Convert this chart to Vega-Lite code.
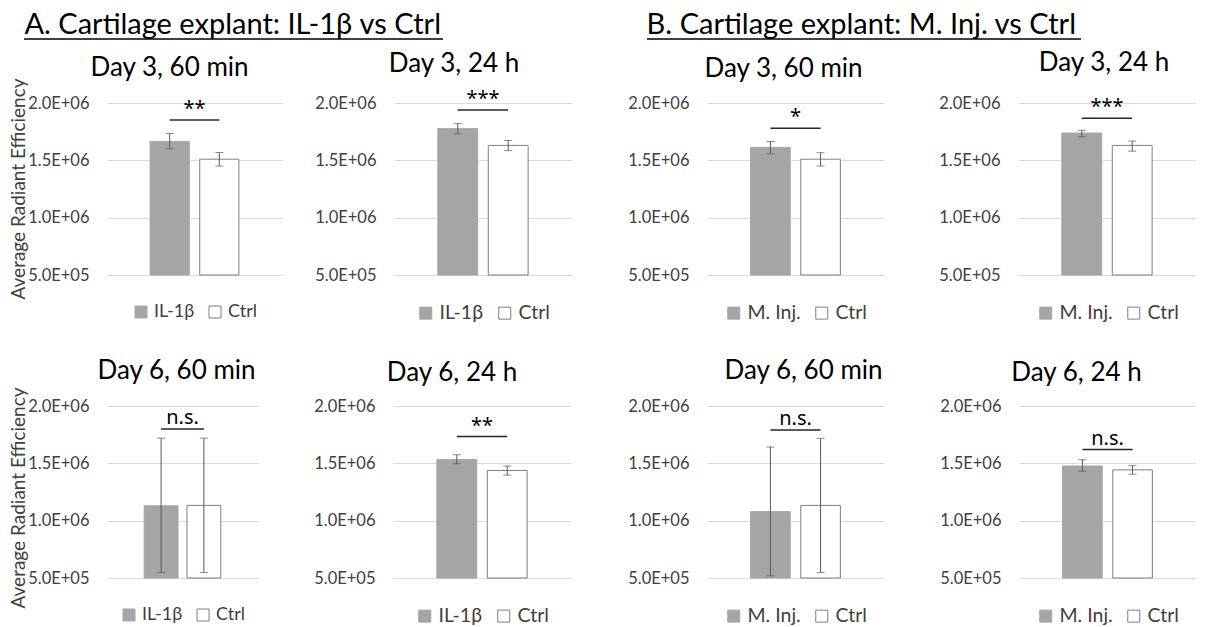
{
"$schema": "https://vega.github.io/schema/vega-lite/v6.json",
"background": "white",
"padding": {"left": 8, "top": 6, "right": 0, "bottom": 0},
"datasets": {
"bars": [
{"panel":"A1","group":"IL-1β","mean":1665000,"lo":1600000,"hi":1735000},
{"panel":"A1","group":"Ctrl","mean":1510000,"lo":1450000,"hi":1568000},
{"panel":"A2","group":"IL-1β","mean":1776000,"lo":1732000,"hi":1820000},
{"panel":"A2","group":"Ctrl","mean":1630000,"lo":1585000,"hi":1673000},
{"panel":"A3","group":"IL-1β","mean":1130000,"lo":548000,"hi":1720000},
{"panel":"A3","group":"Ctrl","mean":1133000,"lo":547000,"hi":1720000},
{"panel":"A4","group":"IL-1β","mean":1533000,"lo":1497000,"hi":1575000},
{"panel":"A4","group":"Ctrl","mean":1438000,"lo":1397000,"hi":1476000},
{"panel":"B1","group":"M. Inj.","mean":1613000,"lo":1558000,"hi":1665000},
{"panel":"B1","group":"Ctrl","mean":1510000,"lo":1450000,"hi":1567000},
{"panel":"B2","group":"M. Inj.","mean":1738000,"lo":1705000,"hi":1762000},
{"panel":"B2","group":"Ctrl","mean":1630000,"lo":1580000,"hi":1668000},
{"panel":"B3","group":"M. Inj.","mean":1079000,"lo":520000,"hi":1643000},
{"panel":"B3","group":"Ctrl","mean":1133000,"lo":547000,"hi":1718000},
{"panel":"B4","group":"M. Inj.","mean":1477000,"lo":1430000,"hi":1532000},
{"panel":"B4","group":"Ctrl","mean":1443000,"lo":1405000,"hi":1480000}
],
"sig": [
{"panel":"A1","g1":"IL-1β","g2":"Ctrl","y":1852000,"label":"**"},
{"panel":"A2","g1":"IL-1β","g2":"Ctrl","y":1940000,"label":"***"},
{"panel":"A3","g1":"IL-1β","g2":"Ctrl","y":1800000,"label":"n.s."},
{"panel":"A4","g1":"IL-1β","g2":"Ctrl","y":1734000,"label":"**"},
{"panel":"B1","g1":"M. Inj.","g2":"Ctrl","y":1780000,"label":"*"},
{"panel":"B2","g1":"M. Inj.","g2":"Ctrl","y":1868000,"label":"***"},
{"panel":"B3","g1":"M. Inj.","g2":"Ctrl","y":1790000,"label":"n.s."},
{"panel":"B4","g1":"M. Inj.","g2":"Ctrl","y":1620000,"label":"n.s."}
],
"ytitle": [
{"t": "Average Radiant Efficiency"}
]
},
"config": {
"font": "Lato",
"view": {"stroke": null},
"title": {"fontSize": 26, "fontWeight": "normal", "color": "#000000", "font": "Lato"},
"axisY": {"domain": false, "ticks": false, "gridColor": "#d9d9d9", "gridWidth": 1, "labelFontSize": 16.5, "labelColor": "#404040", "labelPadding": 18, "labelFont": "Lato"},
"legend": {"orient": "bottom", "direction": "horizontal", "symbolType": "square", "symbolSize": 144, "symbolStrokeWidth": 1, "labelFontSize": 19.5, "labelColor": "#404040", "labelFont": "Lato", "columnPadding": 11, "labelOffset": 4, "offset": 28, "layout": {"bottom": {"anchor": "middle"}}}
},
"resolve": {"scale": {"fill": "independent", "stroke": "independent"}},
"spacing": 10,
"vconcat": [
{
"resolve": {"scale": {"fill": "independent", "stroke": "independent"}},
"spacing": 201,
"hconcat": [
{
"width": 434, "height": 33,
"data": {"values": [{"section": "A. Cartilage explant: IL-1β vs Ctrl"}]},
"layer": [
{"mark": {"type": "text", "x": "width", "align": "right", "baseline": "middle", "dx": -2, "dy": 2, "fontSize": 29, "font": "Lato", "color": "#000000"}, "encoding": {"text": {"field": "section"}}},
{"mark": {"type": "rule", "color": "#000000", "strokeWidth": 1.5, "strokeDash": [419, 2000]}, "encoding": {"y": {"datum": 0, "type": "quantitative", "scale": {"domain": [0, 1]}, "axis": null}}}
]
},
{
"width": 434, "height": 33,
"data": {"values": [{"section": "B. Cartilage explant: M. Inj. vs Ctrl"}]},
"layer": [
{"mark": {"type": "text", "x": "width", "align": "right", "baseline": "middle", "dx": -5, "dy": 2, "fontSize": 29, "font": "Lato", "color": "#000000"}, "encoding": {"text": {"field": "section"}}},
{"mark": {"type": "rule", "color": "#000000", "strokeWidth": 1.5}, "encoding": {"y": {"datum": 0, "type": "quantitative", "scale": {"domain": [0, 1]}, "axis": null}}}
]
}
]
},
{
"resolve": {"scale": {"fill": "independent", "stroke": "independent"}},
"spacing": 55,
"hconcat": [
{
"resolve": {"scale": {"fill": "independent", "stroke": "independent"}},
"spacing": -2,
"hconcat": [
{
"spacing": 87,
"vconcat": [
{"width": 19, "height": 172, "data": {"name": "ytitle"}, "mark": {"type": "text", "angle": 270, "align": "center", "baseline": "middle", "fontSize": 19, "font": "Lato", "color": "#404040"}, "encoding": {"text": {"field": "t"}}},
{"width": 19, "height": 172, "data": {"name": "ytitle"}, "mark": {"type": "text", "angle": 270, "align": "center", "baseline": "middle", "fontSize": 19, "font": "Lato", "color": "#404040"}, "encoding": {"text": {"field": "t"}}}
]
},
{
"resolve": {"scale": {"fill": "independent", "stroke": "independent"}},
"spacing": 35,
"vconcat": [
{
"resolve": {"scale": {"fill": "independent", "stroke": "independent"}},
"bounds": "flush",
"spacing": 112,
"hconcat": [
{"width":175,"height":172,
 "title":{"text":"Day 3, 60 min","dx":-25,"offset":14},
 "layer":[
  {"data":{"name":"bars"},"transform":[{"filter":"datum.panel == 'A1'"}],
   "mark":{"type":"bar","strokeWidth":1},
   "encoding":{
    "x":{"field":"group","type":"nominal","scale":{"domain":["IL-1β","Ctrl"],"paddingInner":0.21,"paddingOuter":0.87},"axis":null},
    "y":{"field":"mean","type":"quantitative","scale":{"domain":[500000,2000000],"zero":false,"nice":false},"axis":{"title":null,"values":[500000,1000000,1500000,2000000],"labelExpr":"replace(format(datum.value, '.1e'), 'e+', 'E+0')"}},
    "y2":{"datum":500000},
    "fill":{"field":"group","type":"nominal","scale":{"domain":["IL-1β","Ctrl"],"range":["#a5a5a5","#ffffff"]},"legend":{"title":null,"labelFontSize":18}},
    "stroke":{"field":"group","type":"nominal","scale":{"domain":["IL-1β","Ctrl"],"range":["#a5a5a5","#7f7f7f"]},"legend":{"title":null,"labelFontSize":18}}
   }},
  {"data":{"name":"bars"},"transform":[{"filter":"datum.panel == 'A1'"}],
   "mark":{"type":"errorbar","ticks":{"size":8,"color":"#595959"},"rule":{"color":"#595959"}},
   "encoding":{"x":{"field":"group","type":"nominal","axis":null},"y":{"field":"lo","type":"quantitative"},"y2":{"field":"hi"}}},
  {"data":{"name":"sig"},"transform":[{"filter":"datum.panel == 'A1'"}],
   "mark":{"type":"rule","color":"#262626","strokeWidth":1.5},
   "encoding":{"x":{"field":"g1","type":"nominal","axis":null},"x2":{"field":"g2"},"y":{"field":"y","type":"quantitative"}}},
  {"data":{"name":"sig"},"transform":[{"filter":"datum.panel == 'A1'"}],
   "mark":{"type":"text","fontSize":20,"font":"Noto Sans","baseline":"alphabetic","dy":-5,"color":"#000000"},
   "encoding":{"x":{"field":"g1","type":"nominal","bandPosition":1.133,"axis":null},"y":{"field":"y","type":"quantitative"},"text":{"field":"label"}}}
 ]},
{"width":178,"height":172,
 "title":{"text":"Day 3, 24 h","dx":-29,"offset":12},
 "layer":[
  {"data":{"name":"bars"},"transform":[{"filter":"datum.panel == 'A2'"}],
   "mark":{"type":"bar","strokeWidth":1},
   "encoding":{
    "x":{"field":"group","type":"nominal","scale":{"domain":["IL-1β","Ctrl"],"paddingInner":0.21,"paddingOuter":0.87},"axis":null},
    "y":{"field":"mean","type":"quantitative","scale":{"domain":[500000,2000000],"zero":false,"nice":false},"axis":{"title":null,"values":[500000,1000000,1500000,2000000],"labelExpr":"replace(format(datum.value, '.1e'), 'e+', 'E+0')"}},
    "y2":{"datum":500000},
    "fill":{"field":"group","type":"nominal","scale":{"domain":["IL-1β","Ctrl"],"range":["#a5a5a5","#ffffff"]},"legend":{"title":null}},
    "stroke":{"field":"group","type":"nominal","scale":{"domain":["IL-1β","Ctrl"],"range":["#a5a5a5","#7f7f7f"]},"legend":{"title":null}}
   }},
  {"data":{"name":"bars"},"transform":[{"filter":"datum.panel == 'A2'"}],
   "mark":{"type":"errorbar","ticks":{"size":8,"color":"#595959"},"rule":{"color":"#595959"}},
   "encoding":{"x":{"field":"group","type":"nominal","axis":null},"y":{"field":"lo","type":"quantitative"},"y2":{"field":"hi"}}},
  {"data":{"name":"sig"},"transform":[{"filter":"datum.panel == 'A2'"}],
   "mark":{"type":"rule","color":"#262626","strokeWidth":1.5},
   "encoding":{"x":{"field":"g1","type":"nominal","axis":null},"x2":{"field":"g2"},"y":{"field":"y","type":"quantitative"}}},
  {"data":{"name":"sig"},"transform":[{"filter":"datum.panel == 'A2'"}],
   "mark":{"type":"text","fontSize":20,"font":"Noto Sans","baseline":"alphabetic","dy":-5,"color":"#000000"},
   "encoding":{"x":{"field":"g1","type":"nominal","bandPosition":1.133,"axis":null},"y":{"field":"y","type":"quantitative"},"text":{"field":"label"}}}
 ]}
]
},
{
"resolve": {"scale": {"fill": "independent", "stroke": "independent"}},
"bounds": "flush",
"spacing": 135,
"hconcat": [
{"width":151,"height":172,
 "title":{"text":"Day 6, 60 min","dx":-6,"offset":14},
 "layer":[
  {"data":{"name":"bars"},"transform":[{"filter":"datum.panel == 'A3'"}],
   "mark":{"type":"bar","strokeWidth":1},
   "encoding":{
    "x":{"field":"group","type":"nominal","scale":{"domain":["IL-1β","Ctrl"],"paddingInner":0.21,"paddingOuter":0.87},"axis":null},
    "y":{"field":"mean","type":"quantitative","scale":{"domain":[500000,2000000],"zero":false,"nice":false},"axis":{"title":null,"values":[500000,1000000,1500000,2000000],"labelExpr":"replace(format(datum.value, '.1e'), 'e+', 'E+0')"}},
    "y2":{"datum":500000},
    "fill":{"field":"group","type":"nominal","scale":{"domain":["IL-1β","Ctrl"],"range":["#a5a5a5","#ffffff"]},"legend":{"title":null,"labelFontSize":18}},
    "stroke":{"field":"group","type":"nominal","scale":{"domain":["IL-1β","Ctrl"],"range":["#a5a5a5","#7f7f7f"]},"legend":{"title":null,"labelFontSize":18}}
   }},
  {"data":{"name":"bars"},"transform":[{"filter":"datum.panel == 'A3'"}],
   "mark":{"type":"errorbar","ticks":{"size":8,"color":"#595959"},"rule":{"color":"#595959"}},
   "encoding":{"x":{"field":"group","type":"nominal","axis":null},"y":{"field":"lo","type":"quantitative"},"y2":{"field":"hi"}}},
  {"data":{"name":"sig"},"transform":[{"filter":"datum.panel == 'A3'"}],
   "mark":{"type":"rule","color":"#262626","strokeWidth":1.5},
   "encoding":{"x":{"field":"g1","type":"nominal","axis":null},"x2":{"field":"g2"},"y":{"field":"y","type":"quantitative"}}},
  {"data":{"name":"sig"},"transform":[{"filter":"datum.panel == 'A3'"}],
   "mark":{"type":"text","fontSize":20,"font":"Noto Sans","baseline":"alphabetic","dy":-5,"color":"#000000"},
   "encoding":{"x":{"field":"g1","type":"nominal","bandPosition":1.133,"axis":null},"y":{"field":"y","type":"quantitative"},"text":{"field":"label"}}}
 ]},
{"width":178,"height":172,
 "title":{"text":"Day 6, 24 h","dx":-30,"offset":12},
 "layer":[
  {"data":{"name":"bars"},"transform":[{"filter":"datum.panel == 'A4'"}],
   "mark":{"type":"bar","strokeWidth":1},
   "encoding":{
    "x":{"field":"group","type":"nominal","scale":{"domain":["IL-1β","Ctrl"],"paddingInner":0.21,"paddingOuter":0.87},"axis":null},
    "y":{"field":"mean","type":"quantitative","scale":{"domain":[500000,2000000],"zero":false,"nice":false},"axis":{"title":null,"values":[500000,1000000,1500000,2000000],"labelExpr":"replace(format(datum.value, '.1e'), 'e+', 'E+0')"}},
    "y2":{"datum":500000},
    "fill":{"field":"group","type":"nominal","scale":{"domain":["IL-1β","Ctrl"],"range":["#a5a5a5","#ffffff"]},"legend":{"title":null}},
    "stroke":{"field":"group","type":"nominal","scale":{"domain":["IL-1β","Ctrl"],"range":["#a5a5a5","#7f7f7f"]},"legend":{"title":null}}
   }},
  {"data":{"name":"bars"},"transform":[{"filter":"datum.panel == 'A4'"}],
   "mark":{"type":"errorbar","ticks":{"size":8,"color":"#595959"},"rule":{"color":"#595959"}},
   "encoding":{"x":{"field":"group","type":"nominal","axis":null},"y":{"field":"lo","type":"quantitative"},"y2":{"field":"hi"}}},
  {"data":{"name":"sig"},"transform":[{"filter":"datum.panel == 'A4'"}],
   "mark":{"type":"rule","color":"#262626","strokeWidth":1.5},
   "encoding":{"x":{"field":"g1","type":"nominal","axis":null},"x2":{"field":"g2"},"y":{"field":"y","type":"quantitative"}}},
  {"data":{"name":"sig"},"transform":[{"filter":"datum.panel == 'A4'"}],
   "mark":{"type":"text","fontSize":20,"font":"Noto Sans","baseline":"alphabetic","dy":-5,"color":"#000000"},
   "encoding":{"x":{"field":"g1","type":"nominal","bandPosition":1.133,"axis":null},"y":{"field":"y","type":"quantitative"},"text":{"field":"label"}}}
 ]}
]
}
]
}
]
},
{
"resolve": {"scale": {"fill": "independent", "stroke": "independent"}},
"spacing": 35,
"vconcat": [
{
"resolve": {"scale": {"fill": "independent", "stroke": "independent"}},
"bounds": "flush",
"spacing": 134,
"hconcat": [
{"width":177,"height":172,
 "title":{"text":"Day 3, 60 min","dx":-12,"offset":13},
 "layer":[
  {"data":{"name":"bars"},"transform":[{"filter":"datum.panel == 'B1'"}],
   "mark":{"type":"bar","strokeWidth":1},
   "encoding":{
    "x":{"field":"group","type":"nominal","scale":{"domain":["M. Inj.","Ctrl"],"paddingInner":0.21,"paddingOuter":0.87},"axis":null},
    "y":{"field":"mean","type":"quantitative","scale":{"domain":[500000,2000000],"zero":false,"nice":false},"axis":{"title":null,"values":[500000,1000000,1500000,2000000],"labelExpr":"replace(format(datum.value, '.1e'), 'e+', 'E+0')"}},
    "y2":{"datum":500000},
    "fill":{"field":"group","type":"nominal","scale":{"domain":["M. Inj.","Ctrl"],"range":["#a5a5a5","#ffffff"]},"legend":{"title":null}},
    "stroke":{"field":"group","type":"nominal","scale":{"domain":["M. Inj.","Ctrl"],"range":["#a5a5a5","#7f7f7f"]},"legend":{"title":null}}
   }},
  {"data":{"name":"bars"},"transform":[{"filter":"datum.panel == 'B1'"}],
   "mark":{"type":"errorbar","ticks":{"size":8,"color":"#595959"},"rule":{"color":"#595959"}},
   "encoding":{"x":{"field":"group","type":"nominal","axis":null},"y":{"field":"lo","type":"quantitative"},"y2":{"field":"hi"}}},
  {"data":{"name":"sig"},"transform":[{"filter":"datum.panel == 'B1'"}],
   "mark":{"type":"rule","color":"#262626","strokeWidth":1.5},
   "encoding":{"x":{"field":"g1","type":"nominal","axis":null},"x2":{"field":"g2"},"y":{"field":"y","type":"quantitative"}}},
  {"data":{"name":"sig"},"transform":[{"filter":"datum.panel == 'B1'"}],
   "mark":{"type":"text","fontSize":20,"font":"Noto Sans","baseline":"alphabetic","dy":-5,"color":"#000000"},
   "encoding":{"x":{"field":"g1","type":"nominal","bandPosition":1.133,"axis":null},"y":{"field":"y","type":"quantitative"},"text":{"field":"label"}}}
 ]},
{"width":178,"height":172,
 "title":{"text":"Day 3, 24 h","dx":-3,"offset":19},
 "layer":[
  {"data":{"name":"bars"},"transform":[{"filter":"datum.panel == 'B2'"}],
   "mark":{"type":"bar","strokeWidth":1},
   "encoding":{
    "x":{"field":"group","type":"nominal","scale":{"domain":["M. Inj.","Ctrl"],"paddingInner":0.21,"paddingOuter":0.87},"axis":null},
    "y":{"field":"mean","type":"quantitative","scale":{"domain":[500000,2000000],"zero":false,"nice":false},"axis":{"title":null,"values":[500000,1000000,1500000,2000000],"labelExpr":"replace(format(datum.value, '.1e'), 'e+', 'E+0')"}},
    "y2":{"datum":500000},
    "fill":{"field":"group","type":"nominal","scale":{"domain":["M. Inj.","Ctrl"],"range":["#a5a5a5","#ffffff"]},"legend":{"title":null}},
    "stroke":{"field":"group","type":"nominal","scale":{"domain":["M. Inj.","Ctrl"],"range":["#a5a5a5","#7f7f7f"]},"legend":{"title":null}}
   }},
  {"data":{"name":"bars"},"transform":[{"filter":"datum.panel == 'B2'"}],
   "mark":{"type":"errorbar","ticks":{"size":8,"color":"#595959"},"rule":{"color":"#595959"}},
   "encoding":{"x":{"field":"group","type":"nominal","axis":null},"y":{"field":"lo","type":"quantitative"},"y2":{"field":"hi"}}},
  {"data":{"name":"sig"},"transform":[{"filter":"datum.panel == 'B2'"}],
   "mark":{"type":"rule","color":"#262626","strokeWidth":1.5},
   "encoding":{"x":{"field":"g1","type":"nominal","axis":null},"x2":{"field":"g2"},"y":{"field":"y","type":"quantitative"}}},
  {"data":{"name":"sig"},"transform":[{"filter":"datum.panel == 'B2'"}],
   "mark":{"type":"text","fontSize":20,"font":"Noto Sans","baseline":"alphabetic","dy":-5,"color":"#000000"},
   "encoding":{"x":{"field":"g1","type":"nominal","bandPosition":1.133,"axis":null},"y":{"field":"y","type":"quantitative"},"text":{"field":"label"}}}
 ]}
]
},
{
"resolve": {"scale": {"fill": "independent", "stroke": "independent"}},
"bounds": "flush",
"spacing": 135,
"hconcat": [
{"width":177,"height":172,
 "title":{"text":"Day 6, 60 min","dx":8,"offset":14},
 "layer":[
  {"data":{"name":"bars"},"transform":[{"filter":"datum.panel == 'B3'"}],
   "mark":{"type":"bar","strokeWidth":1},
   "encoding":{
    "x":{"field":"group","type":"nominal","scale":{"domain":["M. Inj.","Ctrl"],"paddingInner":0.21,"paddingOuter":0.87},"axis":null},
    "y":{"field":"mean","type":"quantitative","scale":{"domain":[500000,2000000],"zero":false,"nice":false},"axis":{"title":null,"values":[500000,1000000,1500000,2000000],"labelExpr":"replace(format(datum.value, '.1e'), 'e+', 'E+0')"}},
    "y2":{"datum":500000},
    "fill":{"field":"group","type":"nominal","scale":{"domain":["M. Inj.","Ctrl"],"range":["#a5a5a5","#ffffff"]},"legend":{"title":null}},
    "stroke":{"field":"group","type":"nominal","scale":{"domain":["M. Inj.","Ctrl"],"range":["#a5a5a5","#7f7f7f"]},"legend":{"title":null}}
   }},
  {"data":{"name":"bars"},"transform":[{"filter":"datum.panel == 'B3'"}],
   "mark":{"type":"errorbar","ticks":{"size":8,"color":"#595959"},"rule":{"color":"#595959"}},
   "encoding":{"x":{"field":"group","type":"nominal","axis":null},"y":{"field":"lo","type":"quantitative"},"y2":{"field":"hi"}}},
  {"data":{"name":"sig"},"transform":[{"filter":"datum.panel == 'B3'"}],
   "mark":{"type":"rule","color":"#262626","strokeWidth":1.5},
   "encoding":{"x":{"field":"g1","type":"nominal","axis":null},"x2":{"field":"g2"},"y":{"field":"y","type":"quantitative"}}},
  {"data":{"name":"sig"},"transform":[{"filter":"datum.panel == 'B3'"}],
   "mark":{"type":"text","fontSize":20,"font":"Noto Sans","baseline":"alphabetic","dy":-5,"color":"#000000"},
   "encoding":{"x":{"field":"g1","type":"nominal","bandPosition":1.133,"axis":null},"y":{"field":"y","type":"quantitative"},"text":{"field":"label"}}}
 ]},
{"width":177,"height":172,
 "title":{"text":"Day 6, 24 h","dx":-31,"offset":12},
 "layer":[
  {"data":{"name":"bars"},"transform":[{"filter":"datum.panel == 'B4'"}],
   "mark":{"type":"bar","strokeWidth":1},
   "encoding":{
    "x":{"field":"group","type":"nominal","scale":{"domain":["M. Inj.","Ctrl"],"paddingInner":0.21,"paddingOuter":0.87},"axis":null},
    "y":{"field":"mean","type":"quantitative","scale":{"domain":[500000,2000000],"zero":false,"nice":false},"axis":{"title":null,"values":[500000,1000000,1500000,2000000],"labelExpr":"replace(format(datum.value, '.1e'), 'e+', 'E+0')"}},
    "y2":{"datum":500000},
    "fill":{"field":"group","type":"nominal","scale":{"domain":["M. Inj.","Ctrl"],"range":["#a5a5a5","#ffffff"]},"legend":{"title":null}},
    "stroke":{"field":"group","type":"nominal","scale":{"domain":["M. Inj.","Ctrl"],"range":["#a5a5a5","#7f7f7f"]},"legend":{"title":null}}
   }},
  {"data":{"name":"bars"},"transform":[{"filter":"datum.panel == 'B4'"}],
   "mark":{"type":"errorbar","ticks":{"size":8,"color":"#595959"},"rule":{"color":"#595959"}},
   "encoding":{"x":{"field":"group","type":"nominal","axis":null},"y":{"field":"lo","type":"quantitative"},"y2":{"field":"hi"}}},
  {"data":{"name":"sig"},"transform":[{"filter":"datum.panel == 'B4'"}],
   "mark":{"type":"rule","color":"#262626","strokeWidth":1.5},
   "encoding":{"x":{"field":"g1","type":"nominal","axis":null},"x2":{"field":"g2"},"y":{"field":"y","type":"quantitative"}}},
  {"data":{"name":"sig"},"transform":[{"filter":"datum.panel == 'B4'"}],
   "mark":{"type":"text","fontSize":20,"font":"Noto Sans","baseline":"alphabetic","dy":-5,"color":"#000000"},
   "encoding":{"x":{"field":"g1","type":"nominal","bandPosition":1.133,"axis":null},"y":{"field":"y","type":"quantitative"},"text":{"field":"label"}}}
 ]}
]
}
]
}
]
}
]
}
